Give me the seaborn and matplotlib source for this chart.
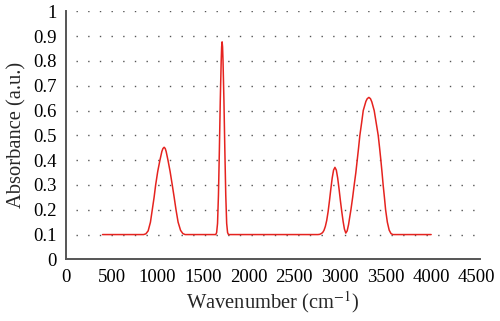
import numpy as np
import pandas as pd
import matplotlib
matplotlib.use('Agg')
import matplotlib.pyplot as plt
import seaborn as sns


# values
wavenumber = [400, 850, 875, 900, 925, 945, 965, 982, 1005, 1029, 1050, 1062, 1075, 1087, 1097, 1117,
              1140, 1164, 1185, 1205, 1228, 1255, 1280, 1305,
              1640, 1650, 1660, 1670, 1680, 1690, 1700, 1705, 1710, 1715, 1720, 1730, 1740, 1750,
              1760, 1770, 1780,
              2760, 2780, 2796, 2811, 2826, 2841, 2856, 2871, 2886, 2901, 2916, 2931, 2946, 2961,
              2976, 2991, 3006, 3021, 3036, 3050, 3065, 3080, 3095, 3110, 3121, 3140, 3157, 3175,
              3190, 3205, 3219, 3238, 3256, 3285, 3300, 3318, 3335, 3350, 3376, 3398, 3420, 3435,
              3449, 3462, 3474, 3488, 3501, 3520, 3540, 3560, 3580, 4000]
absorbance = [0.1, 0.1, 0.103, 0.115, 0.15, 0.2, 0.25, 0.3, 0.355, 0.4, 0.435, 0.447, 0.452, 0.447, 0.435, 0.4,
              0.355, 0.3, 0.25, 0.2, 0.15, 0.117, 0.104, 0.1,
              0.1, 0.108, 0.145, 0.26, 0.44, 0.64, 0.80, 0.857, 0.877, 0.857, 0.80, 0.64, 0.44, 0.26,
              0.145, 0.108, 0.1,
              0.1, 0.101, 0.104, 0.108, 0.117, 0.133, 0.157, 0.192, 0.236, 0.284, 0.328, 0.360, 0.371, 0.360,
              0.328, 0.284, 0.236, 0.192, 0.152, 0.122, 0.106, 0.115, 0.14, 0.175, 0.2, 0.25, 0.3, 0.35,
              0.4, 0.45, 0.5, 0.55, 0.6, 0.637, 0.648, 0.653, 0.648, 0.635, 0.6, 0.55, 0.5, 0.45,
              0.4, 0.35, 0.3, 0.25, 0.2, 0.15, 0.118, 0.104, 0.1, 0.1]

xticks = [0, 500, 1000, 1500, 2000, 2500, 3000, 3500, 4000, 4500]
yticks = [0, 0.1, 0.2, 0.3, 0.4, 0.5, 0.6, 0.7, 0.8, 0.9, 1]
ytick_labels = ['0', '0.1', '0.2', '0.3', '0.4', '0.5', '0.6', '0.7', '0.8', '0.9', '1']


sns.set_style('white')
plt.rcParams['font.family'] = ['Liberation Serif', 'DejaVu Serif']
plt.rcParams['mathtext.fontset'] = 'stix'

df = pd.DataFrame({'Wavenumber': wavenumber, 'Absorbance': absorbance})

fig = plt.figure(figsize = (5, 3.21), dpi = 100)
ax = fig.add_axes([0.132, 0.192, 0.828, 0.7726])

# dotted horizontal guide lines
for yv in yticks[1:]:
	ax.axhline(yv, color = '#555555', linewidth = 1.0, linestyle = (1.2, (1, 7.4)), zorder = 0)

sns.lineplot(data = df, x = 'Wavenumber', y = 'Absorbance', color = '#e5231f', linewidth = 1.1,
			 sort = False, estimator = None, ax = ax, zorder = 3)

ax.set_xlim(0, 4535)
ax.set_ylim(0, 1)
ax.set_xticks(xticks)
ax.set_xticklabels([str(t) for t in xticks])
ax.set_yticks(yticks)
ax.set_yticklabels(ytick_labels)
ax.tick_params(axis = 'both', length = 0, labelsize = 13.5, colors = 'black')
ax.tick_params(axis = 'x', pad = 7)
ax.tick_params(axis = 'y', pad = 6.5)

ax.set_xlabel('Wavenumber (cm$^{-1}$)', fontsize = 14.8, labelpad = 2)
ax.set_ylabel('Absorbance (a.u.)', fontsize = 14.8, labelpad = 5)

for side in ['top', 'right']:
	ax.spines[side].set_visible(False)
for side in ['left', 'bottom']:
	ax.spines[side].set_color('#555555')
	ax.spines[side].set_linewidth(1.4)

fig.savefig('out.png', dpi = 100)
